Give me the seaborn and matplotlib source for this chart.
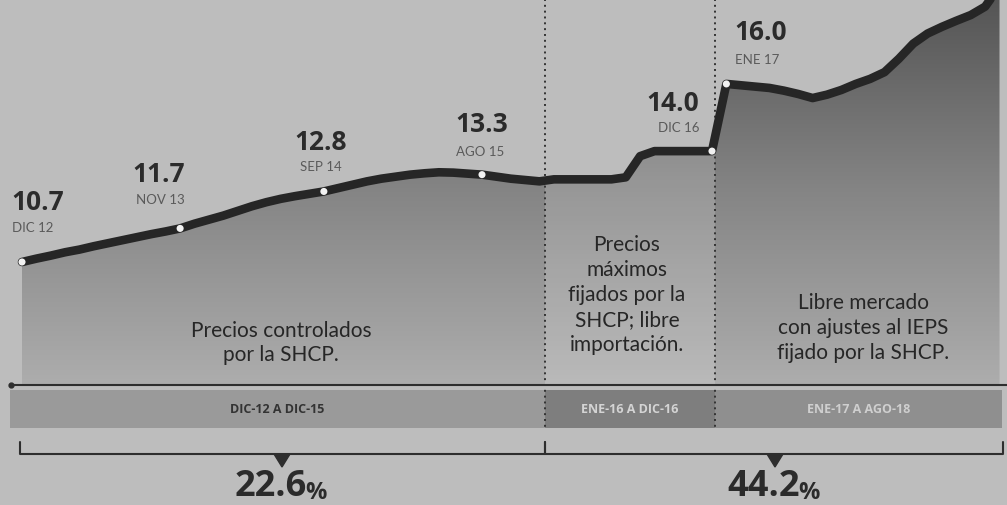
import numpy as np
import pandas as pd
import seaborn as sns
import matplotlib.pyplot as plt
from matplotlib.colors import LinearSegmentedColormap
from matplotlib.patches import Rectangle

# -------------------------
# Data: monthly price, DIC-12 .. AGO-18
# -------------------------
prices = [
    10.70, 10.80, 10.89, 10.99, 11.07, 11.17, 11.26, 11.35, 11.44, 11.53, 11.61,  # dic12 - oct13
    11.70, 11.84, 11.96, 12.08, 12.22, 12.36, 12.48, 12.58, 12.66, 12.73,  # nov13 - ago14
    12.80, 12.90, 13.00, 13.10, 13.18, 13.24, 13.30, 13.34, 13.37, 13.36, 13.33,  # sep14 - jul15
    13.30, 13.24, 13.18, 13.14, 13.10,  # ago15 - dic15
    13.16, 13.16, 13.16, 13.16, 13.16, 13.22, 13.85, 14.00, 14.00, 14.00, 14.00, 14.00,  # 2016
    16.00, 15.96, 15.92, 15.88, 15.80, 15.70, 15.58, 15.68, 15.82, 16.00, 16.15, 16.35,  # 2017
    16.75, 17.20, 17.50, 17.70, 17.88, 18.05, 18.30, 18.90,  # ene18 - ago18
]
label_idx = [0, 11, 21, 32, 48, 49]
label_month = ["DIC 12", "NOV 13", "SEP 14", "AGO 15", "DIC 16", "ENE 17"]

periods = ["DIC-12 A DIC-15", "ENE-16 A DIC-16", "ENE-17 A AGO-18"]
period_notes = [
    "Precios controlados\npor la SHCP.",
    "Precios\nmáximos\nfijados por la\nSHCP; libre\nimportación.",
    "Libre mercado\ncon ajustes al IEPS\nfijado por la SHCP.",
]
changes = ["22.6", "44.2"]

df = pd.DataFrame({"mes": np.arange(len(prices)), "precio": prices})

# -------------------------
# Style
# -------------------------
sns.set_theme(style="white")
plt.rcParams["font.family"] = ["Open Sans", "DejaVu Sans"]

W, H = 1007, 506


# pixel helpers for the layout (month index on x, price on y)
def px(xp):
    return (xp - 22) / 14.375


def py(yp):
    return 10.7 + (263 - yp) / 33.6


bg = "#bdbdbd"
fig = plt.figure(figsize=(W / 100, H / 100), dpi=100, facecolor=bg)
ax = fig.add_axes([0, 0, 1, 1])
ax.set_facecolor(bg)

base = py(386)

# area with vertical gradient
area = ax.fill_between(df["mes"], df["precio"], base, facecolor="none", edgecolor="none")
cmap = LinearSegmentedColormap.from_list("g", ["#555555", "#858585", "#adadad"])
grad = np.linspace(0, 1, 256).reshape(-1, 1)
im = ax.imshow(grad, cmap=cmap, aspect="auto", zorder=1,
               extent=[px(0), px(W), base, py(0)], origin="upper")
im.set_clip_path(area.get_paths()[0], transform=ax.transData)

mid = Rectangle((px(545), base), px(715) - px(545), py(0) - base,
                facecolor="white", alpha=0.16, edgecolor="none", zorder=1.5)
ax.add_patch(mid)
mid.set_clip_path(area.get_paths()[0], transform=ax.transData)

# dotted separators
for xs in (545, 715):
    ax.plot([px(xs), px(xs)], [py(0), py(430)], color="#333333", lw=1.4,
            linestyle=(0, (1, 2)), zorder=2)

# line + points
sns.lineplot(data=df, x="mes", y="precio", ax=ax, color="#262626", lw=6.2,
             zorder=4, solid_capstyle="round", solid_joinstyle="round")
sns.scatterplot(x=df["mes"].iloc[label_idx], y=df["precio"].iloc[label_idx], ax=ax,
                s=26, color="#f2f2f2", edgecolor="none", zorder=5)

num_off = [(16, 60), (-21, 55), (-3, 50), (0, 51), (-39, 49), (34, 52)]
mon_off = [(11, 35), (-20, 29), (-3, 25), (-2, 24), (-33, 24), (31, 25)]
for i, m, no, mo in zip(label_idx, label_month, num_off, mon_off):
    v = prices[i]
    ax.annotate(f"{v:.1f}", (i, v), xytext=no, textcoords="offset pixels",
                ha="center", va="center", fontsize=19, fontweight="bold",
                color="#2b2b2b", zorder=6)
    ax.annotate(m, (i, v), xytext=mo, textcoords="offset pixels",
                ha="center", va="center", fontsize=9.5, color="#5a5a5a",
                family=["Lato", "DejaVu Sans"], zorder=6)

# period notes
note_pos = [(281, 343), (627, 295), (863, 328)]
for txt, (xn, yn) in zip(period_notes, note_pos):
    ax.text(px(xn), py(yn), txt, ha="center", va="center", fontsize=15,
            color="#262626", linespacing=1.3, family=["Lato", "DejaVu Sans"], zorder=6)

# axis line and period band
ax.plot([px(10), px(W)], [py(386), py(386)], color="#2e2e2e", lw=1.5, zorder=6)
ax.plot([px(11)], [py(386)], "o", color="#2e2e2e", ms=3.5, zorder=6)

band = [(10, 545, "#9a9a9a", "#333333"), (545, 715, "#7e7e7e", "#d4d4d4"),
        (715, 1002, "#8f8f8f", "#cfcfcf")]
for (x0, x1, fc, tc), lab in zip(band, periods):
    ax.add_patch(Rectangle((px(x0), py(429)), px(x1) - px(x0), py(391) - py(429),
                           facecolor=fc, edgecolor="none", zorder=1))
    ax.text(px((x0 + x1) / 2 + (0 if x0 else 8)), py(410), lab, ha="center", va="center",
            fontsize=9, fontweight="bold", color=tc, zorder=6)

# brackets and changes
for (x0, x1, xm), val in zip([(20, 545, 282), (545, 1003, 775)], changes):
    ax.plot([px(x0), px(x0), px(x1), px(x1)], [py(443), py(455), py(455), py(443)],
            color="#2e2e2e", lw=1.5, zorder=6)
    ax.fill([px(xm - 8), px(xm + 8), px(xm)], [py(455), py(455), py(468)],
            color="#2e2e2e", zorder=6)
    t = ax.text(px(xm - 11), py(505), val, ha="center", va="bottom",
                fontsize=26, fontweight="bold", color="#2b2b2b", zorder=6)
    ax.annotate("%", xy=(1, 0), xycoords=t, xytext=(-1.5, 0), textcoords="offset points",
                ha="left", va="bottom", fontsize=17, fontweight="bold",
                color="#2b2b2b", zorder=6)

ax.set_xlim(px(0), px(W))
ax.set_ylim(py(H), py(0))
ax.axis("off")

fig.savefig("out.png", dpi=100, facecolor=bg)
